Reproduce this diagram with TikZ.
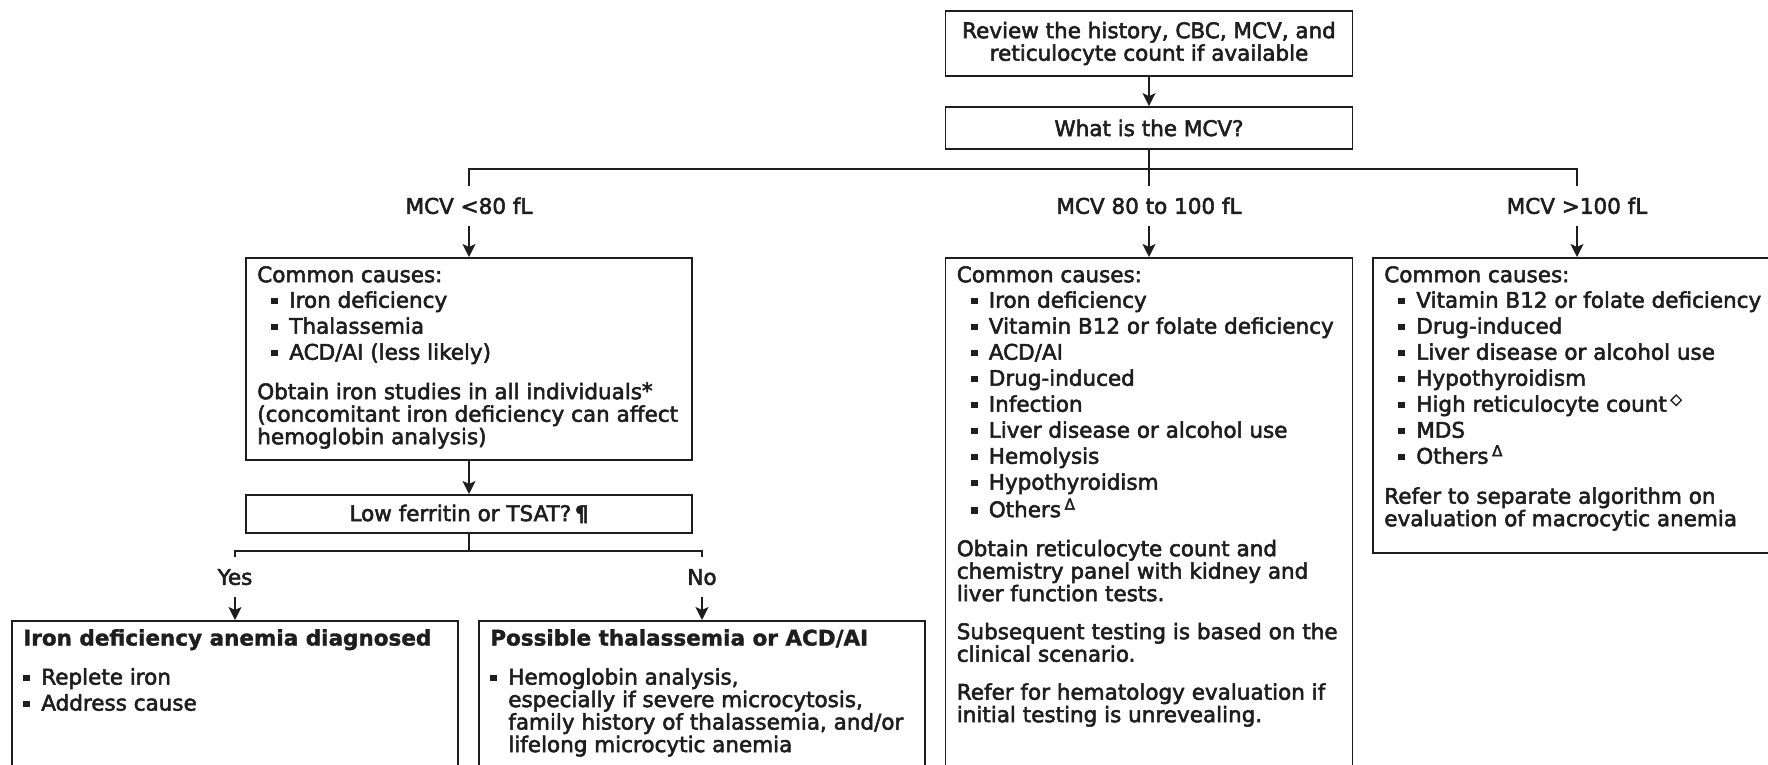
\documentclass[tikz,border=0pt]{standalone}
\usepackage{fontspec}
\setmainfont{DejaVu Sans}[UprightFeatures={FakeBold=2.5},BoldFeatures={FakeBold=1.5}]
\usetikzlibrary{arrows.meta}
\definecolor{ink}{HTML}{1E1E1E}
\newcommand\bl{\makebox[18pt][l]{\rule[3.5pt]{7pt}{6.5pt}}}
\newcommand\ib{\hspace*{14pt}\bl}
\newcommand\fs{\rule{0pt}{16pt}}
\begin{document}
\begin{tikzpicture}[x=1pt,y=-1pt,
  every node/.style={text=ink, font=\fontsize{21.5}{22.5}\selectfont},
  box/.style={draw=ink, line width=1.8pt, inner sep=0pt},
  txt/.style={anchor=north west, align=left, inner sep=0pt},
  lab/.style={inner xsep=4pt, inner ysep=12pt, text height=15.5pt, text depth=0pt},
  arr/.style={draw=ink, line width=1.8pt, -{Stealth[length=13pt,width=13pt,inset=3pt]}},
  ln/.style={draw=ink, line width=1.8pt}]
\useasboundingbox (0,0) rectangle (1768,764);
\fill[white] (0,0) rectangle (1768,764);
\clip (0,0) rectangle (1768,764);

% top
\node[box, minimum width=407pt, minimum height=65pt, align=center] (top) at (1149,43.5)
  {Review the history, CBC, MCV, and\\reticulocyte count if available};
\node[box, minimum width=407pt, minimum height=42pt] (mcv) at (1149,128) {What is the MCV?};

% MCV labels
\node[lab] (l1) at (469,206) {MCV <80 fL};
\node[lab] (l2) at (1149,206) {MCV 80 to 100 fL};
\node[lab] (l3) at (1577,206) {MCV >100 fL};

% left column
\node[box, anchor=north, minimum width=446pt, minimum height=202pt] (b1) at (469,257) {};
\node[txt] (b1t) at ([shift={(12,9)}]b1.north west)
  {\fs Common causes:\\[3pt]
   \ib Iron deficiency\\[3.5pt]
   \ib Thalassemia\\[3.5pt]
   \ib ACD/AI (less likely)\\[17pt]
   Obtain iron studies in all individuals\raisebox{1pt}{*}\\
   (concomitant iron deficiency can affect\\
   hemoglobin analysis)};
\node[box, anchor=north, minimum width=446pt, minimum height=38pt] (fer) at (469,494)
  {Low ferritin or TSAT?\,{\bfseries ¶}};

% middle column
\node[box, anchor=north, minimum width=407pt, minimum height=560pt] (b2) at (1149,257) {};
\node[txt] (b2t) at ([shift={(12,9)}]b2.north west)
  {\fs Common causes:\\[3pt]
   \ib Iron deficiency\\[3.5pt]
   \ib Vitamin B12 or folate deficiency\\[3.5pt]
   \ib ACD/AI\\[3.5pt]
   \ib Drug-induced\\[3.5pt]
   \ib Infection\\[3.5pt]
   \ib Liver disease or alcohol use\\[3.5pt]
   \ib Hemolysis\\[3.5pt]
   \ib Hypothyroidism\\[3.5pt]
   \ib Others\,\textsuperscript{Δ}\\[16.5pt]
   Obtain reticulocyte count and\\
   chemistry panel with kidney and\\
   liver function tests.\\[15.5pt]
   Subsequent testing is based on the\\
   clinical scenario.\\[15.5pt]
   Refer for hematology evaluation if\\
   initial testing is unrevealing.};

% right column
\node[box, anchor=north, minimum width=408pt, minimum height=295pt] (b3) at (1577,257) {};
\node[txt] (b3t) at ([shift={(12,9)}]b3.north west)
  {\fs Common causes:\\[3pt]
   \ib Vitamin B12 or folate deficiency\\[3.5pt]
   \ib Drug-induced\\[3.5pt]
   \ib Liver disease or alcohol use\\[3.5pt]
   \ib Hypothyroidism\\[3.5pt]
   \ib High reticulocyte count\,\textsuperscript{◇}\\[3.5pt]
   \ib MDS\\[3.5pt]
   \ib Others\,\textsuperscript{Δ}\\[17.5pt]
   Refer to separate algorithm on\\
   evaluation of macrocytic anemia};

% yes / no
\node[lab] (yes) at (235,577) {Yes};
\node[lab] (no) at (702,577) {No};

\node[box, anchor=north, minimum width=446pt, minimum height=200pt] (b4) at (235,620) {};
\node[txt] (b4t) at ([shift={(12,9)}]b4.north west)
  {\fs{\bfseries Iron deficiency anemia diagnosed}\\[16.5pt]
   \bl Replete iron\\[3.5pt]
   \bl Address cause};
\node[box, anchor=north, minimum width=446pt, minimum height=200pt] (b5) at (702,620) {};
\node[txt] (b5t) at ([shift={(12,9)}]b5.north west)
  {\fs{\bfseries Possible thalassemia or ACD/AI}\\[16.5pt]
   \bl Hemoglobin analysis,\\
   \hspace*{18pt}especially if severe microcytosis,\\
   \hspace*{18pt}family history of thalassemia, and/or\\
   \hspace*{18pt}lifelong microcytic anemia};

% connectors
\draw[arr] (top.south) -- (mcv.north);
\coordinate (h1) at (1149,169);
\draw[ln] (mcv.south) -- (l2.north);
\draw[ln] (l1.north) -- (l1.north |- h1) -- (l3.north |- h1) -- (l3.north);
\draw[arr] (l1.south) -- (b1.north);
\draw[arr] (l2.south) -- (b2.north);
\draw[arr] (l3.south) -- (b3.north);
\draw[arr] (b1.south) -- (fer.north);
\coordinate (h2) at (469,551);
\draw[ln] (fer.south) -- (h2);
\draw[ln] (yes.north) -- (yes.north |- h2) -- (no.north |- h2) -- (no.north);
\draw[arr] (yes.south) -- (b4.north);
\draw[arr] (no.south) -- (b5.north);
\end{tikzpicture}
\end{document}
